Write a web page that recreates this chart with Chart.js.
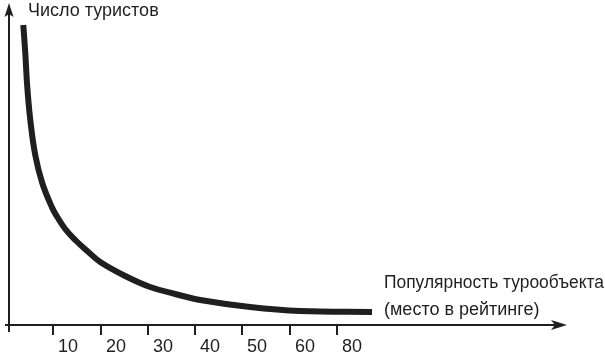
<!DOCTYPE html>
<html><head><meta charset="utf-8">
<script src="https://cdn.jsdelivr.net/npm/chart.js@4/dist/chart.umd.min.js"></script>
<style>html,body{margin:0;padding:0;background:#fff;overflow:hidden}#c{display:block}</style>
</head><body>
<canvas id="c" width="605" height="353"></canvas>
<script>
// Rank position (x) and number of tourists (y, arbitrary units)
const rankX    = [3.66, 4.08, 4.5, 5.14, 6.19, 7.67, 9.79, 10.85, 12.53, 14.65, 17.19, 19.94, 25.22, 30.5, 35.79, 41.08, 51.65, 62.22, 77.45];
const tourists = [300, 272, 238, 205, 170, 142, 117, 108, 96, 85, 74, 63, 49, 38, 31, 25, 18, 14, 13];
const tickValues = [10, 20, 30, 40, 50, 60, 70];
const tickLabels = ['10', '20', '30', '40', '50', '60', '80'];
const yTitle = 'Число туристов';
const xTitle = ['Популярность турообъекта', '(место в рейтинге)'];

const FONT = '"Liberation Sans", Arial, sans-serif';
const INK = '#1f1f1f';

const axesPlugin = {
  id: 'arrowAxes',
  beforeDatasetsDraw(chart) {
    const ctx = chart.ctx, xa = chart.scales.x, ya = chart.scales.y, ca = chart.chartArea;
    const ax = Math.round(xa.left) + 3;
    const ay = Math.round(ya.getPixelForValue(0));
    ctx.save();
    ctx.strokeStyle = INK; ctx.fillStyle = INK; ctx.lineWidth = 2;
    // y axis
    ctx.beginPath(); ctx.moveTo(ax, ay + 7); ctx.lineTo(ax, ca.top + 10); ctx.stroke();
    ctx.beginPath();
    ctx.moveTo(ax, ca.top); ctx.lineTo(ax - 4.5, ca.top + 14); ctx.lineTo(ax, ca.top + 11); ctx.lineTo(ax + 4.5, ca.top + 14);
    ctx.closePath(); ctx.fill();
    // x axis
    ctx.beginPath(); ctx.moveTo(ax - 4, ay); ctx.lineTo(ca.right - 10, ay); ctx.stroke();
    ctx.beginPath();
    ctx.moveTo(ca.right, ay); ctx.lineTo(ca.right - 16, ay - 5); ctx.lineTo(ca.right - 12, ay); ctx.lineTo(ca.right - 16, ay + 5);
    ctx.closePath(); ctx.fill();
    // ticks + labels
    ctx.font = '18px ' + FONT; ctx.textAlign = 'left'; ctx.textBaseline = 'alphabetic';
    tickValues.forEach((v, i) => {
      const px = Math.round(xa.getPixelForValue(v));
      ctx.beginPath(); ctx.moveTo(px, ay); ctx.lineTo(px, ay + 10); ctx.stroke();
      ctx.fillText(tickLabels[i], px + 5, ay + 27);
    });
    // titles
    ctx.fillText(yTitle, ax + 19, ca.top + 13);
    ctx.fillText(xTitle[0], 384, ay - 37, 220);
    ctx.fillText(xTitle[1], 384, ay - 10);
    ctx.restore();
  }
};

new Chart(document.getElementById('c'), {
  type: 'line',
  data: {
    datasets: [{
      data: rankX.map((x, i) => ({ x, y: tourists[i] })),
      borderColor: INK,
      borderWidth: 6,
      borderCapStyle: 'butt',
      borderJoinStyle: 'round',
      pointRadius: 0,
      tension: 0.4,
      fill: false
    }]
  },
  options: {
    responsive: false,
    animation: false,
    layout: { padding: { left: 6, top: 3, right: 38, bottom: 28 } },
    plugins: { legend: { display: false }, tooltip: { enabled: false } },
    scales: {
      x: { type: 'linear', display: false, min: 0, max: 118.7 },
      y: { type: 'linear', display: false, min: 0, max: 322 }
    }
  },
  plugins: [axesPlugin]
});
</script>
</body></html>
